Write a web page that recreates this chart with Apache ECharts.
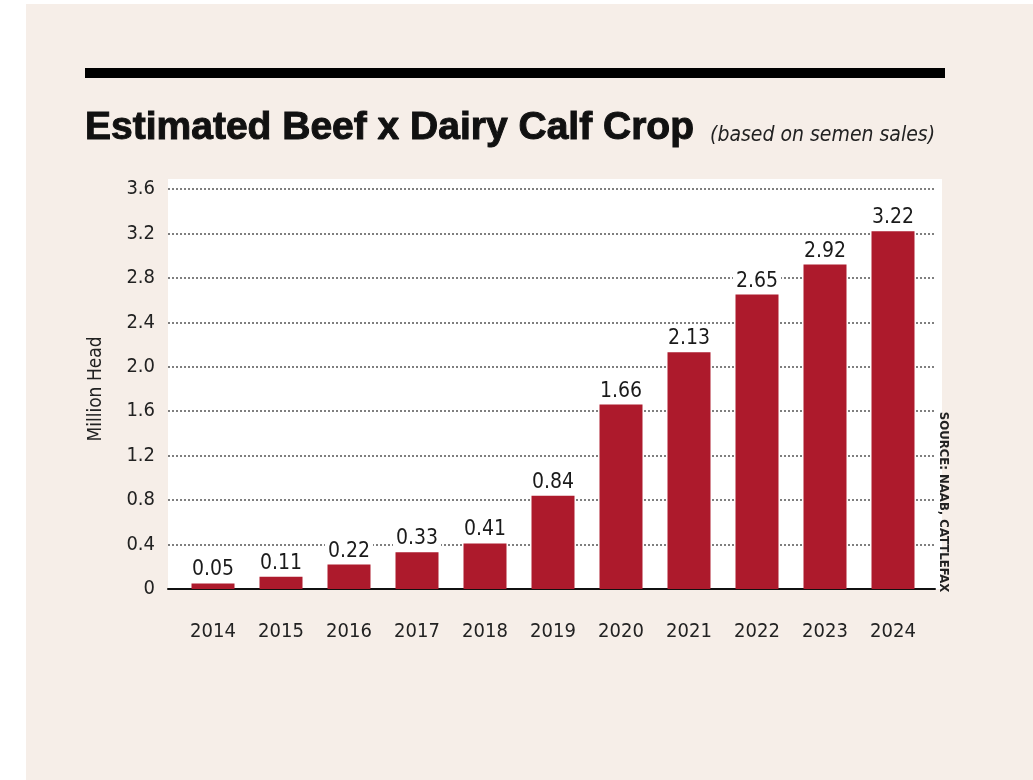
<!DOCTYPE html>
<html>
<head>
<meta charset="utf-8">
<script src="https://cdn.jsdelivr.net/npm/echarts@6/dist/echarts.min.js"></script>
<style>
html,body{margin:0;padding:0;background:#ffffff;}
#chart{width:1033px;height:780px;}
</style>
</head>
<body>
<div id="chart"></div>
<script>
const years = ['2014','2015','2016','2017','2018','2019','2020','2021','2022','2023','2024'];
const calfCrop = [0.05, 0.11, 0.22, 0.33, 0.41, 0.84, 1.66, 2.13, 2.65, 2.92, 3.22];
const yTicks = { min: 0, max: 3.6, interval: 0.4 };

const NARROW = '"Liberation Sans Narrow", "DejaVu Sans Condensed", "Roboto Condensed", sans-serif';

const chart = echarts.init(document.getElementById('chart'), null, { renderer: 'canvas' });

const option = {
  animation: false,
  backgroundColor: '#ffffff',
  graphic: [
    { type: 'rect', z: -10, shape: { x: 26, y: 4, width: 1007, height: 776 }, style: { fill: '#f6eee8' } },
    { type: 'rect', z: -9, shape: { x: 168, y: 179, width: 774, height: 410 }, style: { fill: '#ffffff' } },
    { type: 'rect', shape: { x: 85, y: 68, width: 860, height: 10 }, style: { fill: '#000000' } },
    {
      type: 'text', x: 85, y: 148,
      style: {
        text: 'Estimated Beef x Dairy Calf Crop',
        fontFamily: '"Liberation Sans", Arial, sans-serif', fontWeight: 'bold', fontSize: 39,
        fill: '#111', stroke: '#111', lineWidth: 1,
        align: 'left', verticalAlign: 'bottom'
      }
    },
    {
      type: 'text', x: 935, y: 146,
      style: {
        text: '(based on semen sales)',
        fontFamily: NARROW, fontStyle: 'italic', fontSize: 21, fill: '#222',
        align: 'right', verticalAlign: 'bottom'
      }
    },
    {
      type: 'text', x: 943, y: 502, rotation: -Math.PI / 2,
      style: {
        text: 'SOURCE: NAAB, CATTLEFAX',
        fontFamily: NARROW, fontWeight: 'bold', fontSize: 13, fill: '#222',
        align: 'center', verticalAlign: 'middle'
      }
    }
  ],
  grid: [
    { left: 168, right: 98, top: 189, bottom: 191, containLabel: false },
    { left: 179, right: 106, top: 189, bottom: 191, containLabel: false }
  ],
  xAxis: [
    {
      gridIndex: 0, type: 'value', min: 0, max: 1,
      axisLine: { show: true, lineStyle: { color: '#111', width: 2 } },
      axisTick: { show: false }, axisLabel: { show: false }, splitLine: { show: false }
    },
    {
      gridIndex: 1, type: 'category', data: years,
      axisLine: { show: false }, axisTick: { show: false },
      axisLabel: { margin: 33, fontFamily: NARROW, fontSize: 20, color: '#222' }
    }
  ],
  yAxis: [
    {
      gridIndex: 0, type: 'value', min: yTicks.min, max: yTicks.max, interval: yTicks.interval,
      name: 'Million Head', nameLocation: 'middle', nameRotate: 90, nameGap: 62,
      nameTextStyle: { fontFamily: NARROW, fontSize: 19, color: '#222' },
      axisLine: { show: false }, axisTick: { show: false },
      axisLabel: {
        margin: 13, fontFamily: NARROW, fontSize: 20, color: '#222',
        formatter: v => (v === 0 ? '0' : v.toFixed(1))
      },
      splitLine: { show: true, lineStyle: { color: '#555', width: 1.5, type: [2, 2] } }
    },
    {
      gridIndex: 1, type: 'value', min: yTicks.min, max: yTicks.max, interval: yTicks.interval,
      show: false, splitLine: { show: false }
    }
  ],
  series: [
    {
      type: 'bar', xAxisIndex: 1, yAxisIndex: 1, data: calfCrop, barWidth: 43,
      itemStyle: { color: '#ad1a2c' },
      label: {
        show: true, position: 'top', distance: 3,
        fontFamily: NARROW, fontSize: 21, color: '#1a1a1a',
        formatter: p => p.value.toFixed(2),
        backgroundColor: '#ffffff', padding: [0, 3, 0, 3]
      }
    }
  ]
};
chart.setOption(option);
</script>
</body>
</html>
